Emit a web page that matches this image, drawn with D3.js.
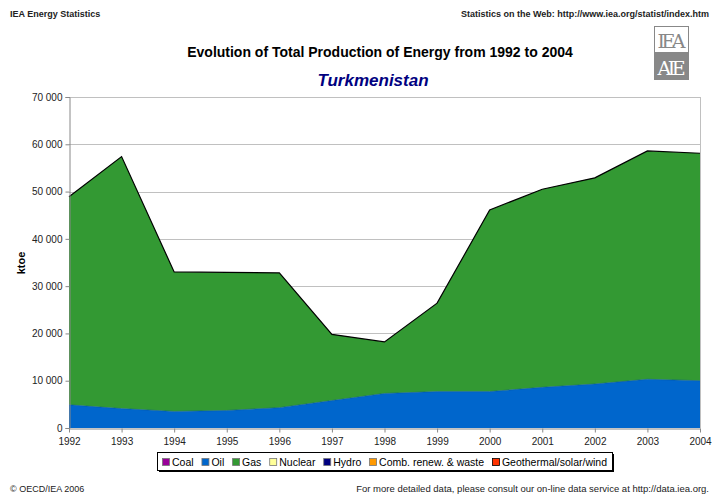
<!DOCTYPE html>
<html><head><meta charset="utf-8">
<script src="https://cdn.jsdelivr.net/npm/d3@7"></script>
<style>body{margin:0;background:#fff;font-family:"Liberation Sans",Arial,sans-serif}</style>
</head><body>
<script>
const years = [1992,1993,1994,1995,1996,1997,1998,1999,2000,2001,2002,2003,2004];
const coal    = [0,0,0,0,0,0,0,0,0,0,0,0,0];
const oil     = [4900,4100,3500,3700,4300,5800,7300,7700,7700,8600,9300,10300,10000];
const gas     = [44000,53300,29500,29200,28500,14000,10900,18700,38400,41900,43600,48300,48100];
const nuclear = [0,0,0,0,0,0,0,0,0,0,0,0,0];
const hydro   = [0,0,0,0,0,0,0,0,0,0,0,0,0];
const comb    = [0,0,0,0,0,0,0,0,0,0,0,0,0];
const geo     = [0,0,0,0,0,0,0,0,0,0,0,0,0];
const seriesNames = ["Coal","Oil","Gas","Nuclear","Hydro","Comb. renew. & waste","Geothermal/solar/wind"];
const seriesColors = ["#990099","#0066CC","#339933","#FFFF99","#000080","#FF9900","#FF3300"];
const yTicks = [0,10000,20000,30000,40000,50000,60000,70000];

(function(){
const W=717,H=496;
const svg=d3.select("body").append("svg").attr("width",W).attr("height",H)
  .style("font-family",'"Liberation Sans",Arial,sans-serif');

const pL=69,pR=700,pT=97,pB=428;
const x=d3.scaleLinear().domain([1992,2004]).range([pL,pR]);
const y=d3.scaleLinear().domain([0,70000]).range([pB,pT]);

// header texts
svg.append("text").attr("x",10).attr("y",17).attr("font-size",9).attr("font-weight","bold").attr("fill","#222").text("IEA Energy Statistics");
svg.append("text").attr("x",709).attr("y",17).attr("text-anchor","end").attr("font-size",9).attr("font-weight","bold").attr("fill","#222").text("Statistics on the Web: http://www.iea.org/statist/index.htm");
svg.append("text").attr("x",380).attr("y",57).attr("text-anchor","middle").attr("font-size",14).attr("font-weight","bold").attr("fill","#000").text("Evolution of Total Production of Energy from 1992 to 2004");
svg.append("text").attr("x",373).attr("y",86).attr("text-anchor","middle").attr("font-size",17).attr("font-weight","bold").attr("font-style","italic").attr("fill","#000080").text("Turkmenistan");

// logo
const lg=svg.append("g");
lg.append("rect").attr("x",654.5).attr("y",26.5).attr("width",34).attr("height",26).attr("fill","#fff").attr("stroke","#888");
lg.append("rect").attr("x",654.5).attr("y",52.5).attr("width",34).attr("height",27).attr("fill","#888").attr("stroke","#888");
lg.append("text").attr("x",671.5).attr("y",48).attr("text-anchor","middle").attr("font-size",19).attr("font-family","DejaVu Serif, serif").attr("fill","#888").attr("textLength",28).text("IEA");
lg.append("text").attr("x",671.5).attr("y",75).attr("text-anchor","middle").attr("font-size",19).attr("font-family","DejaVu Serif, serif").attr("fill","#fff").attr("textLength",28).text("AIE");

// gridlines
svg.append("g").selectAll("line").data(yTicks.filter(d=>d>0)).join("line")
  .attr("x1",pL).attr("x2",pR).attr("y1",d=>Math.round(y(d))+0.5).attr("y2",d=>Math.round(y(d))+0.5)
  .attr("stroke","#c0c0c0").attr("stroke-width",1);
svg.append("line").attr("x1",pR+0.5).attr("x2",pR+0.5).attr("y1",pT).attr("y2",pB).attr("stroke","#c0c0c0");

// stacked areas
const data=years.map((yr,i)=>({year:yr,Coal:coal[i],Oil:oil[i],Gas:gas[i],Nuclear:nuclear[i],Hydro:hydro[i],"Comb. renew. & waste":comb[i],"Geothermal/solar/wind":geo[i]}));
const stack=d3.stack().keys(seriesNames)(data);
const area=d3.area().x(d=>x(d.data.year)).y0(d=>y(d[0])).y1(d=>y(d[1]));
svg.append("g").selectAll("path").data(stack).join("path")
  .attr("d",area).attr("fill",(d,i)=>seriesColors[i]);
const topLine=d3.line().x(d=>x(d.data.year)).y(d=>y(d[1]));
svg.append("path").attr("d",topLine(stack[stack.length-1])).attr("fill","none").attr("stroke","#000").attr("stroke-width",1.2);
svg.append("path").attr("d",topLine(stack[1])).attr("fill","none").attr("stroke","#0050a0").attr("stroke-width",0.6);

// axes
const yAxis=d3.axisLeft(y).tickValues(yTicks).tickSize(4).tickFormat(d=>d3.format(",")(d).replace(/,/g," "));
const gy=svg.append("g").attr("transform",`translate(${pL+0.5},0)`).call(yAxis);
gy.select(".domain").attr("stroke","#888");
gy.selectAll(".tick line").attr("stroke","#888");
gy.selectAll("text").attr("font-size",10).attr("fill","#222").attr("x",-7).attr("font-family",'"Liberation Sans",Arial,sans-serif');

const xAxis=d3.axisBottom(x).tickValues(years).tickSize(4).tickSizeOuter(0).tickFormat(d3.format("d"));
const gx=svg.append("g").attr("transform",`translate(0,${pB+0.5})`).call(xAxis);
gx.select(".domain").attr("stroke","#888");
gx.selectAll(".tick line").attr("stroke","#888");
gx.selectAll("text").attr("font-size",10).attr("fill","#222").attr("dy","0.9em").attr("font-family",'"Liberation Sans",Arial,sans-serif');

svg.append("text").attr("transform","translate(25,263) rotate(-90)").attr("text-anchor","middle").attr("font-size",11).attr("font-weight","bold").text("ktoe");

// legend
const lx=157,ly=452,lw=455,lh=18;
svg.append("rect").attr("x",lx+2).attr("y",ly+2).attr("width",lw).attr("height",lh).attr("fill","#000");
svg.append("rect").attr("x",lx+0.5).attr("y",ly+0.5).attr("width",lw).attr("height",lh).attr("fill","#fff").attr("stroke","#000");
const lgItems=svg.append("g");
const texts=seriesNames.map(n=>lgItems.append("text").attr("y",ly+14).attr("font-size",10.5).attr("fill","#000").text(n));
const widths=texts.map(t=>t.node().getComputedTextLength());
const pad=5, sw=10;
const gap=(lw-2*pad-d3.sum(widths)-sw*seriesNames.length)/(seriesNames.length-1);
let cx=lx+pad;
seriesNames.forEach((n,i)=>{
  lgItems.append("rect").attr("x",cx+0.5).attr("y",ly+6.5).attr("width",7).attr("height",7).attr("fill",seriesColors[i]).attr("stroke",i===6?"#000":"#777").attr("stroke-width",0.8);
  texts[i].attr("x",cx+sw);
  cx+=sw+widths[i]+gap;
});

// footer
svg.append("text").attr("x",10).attr("y",492).attr("font-size",9).attr("fill","#222").text("© OECD/IEA 2006");
svg.append("text").attr("x",709).attr("y",492).attr("text-anchor","end").attr("font-size",9.5).attr("fill","#222").text("For more detailed data, please consult our on-line data service at http://data.iea.org.");
})();
</script>
</body></html>
